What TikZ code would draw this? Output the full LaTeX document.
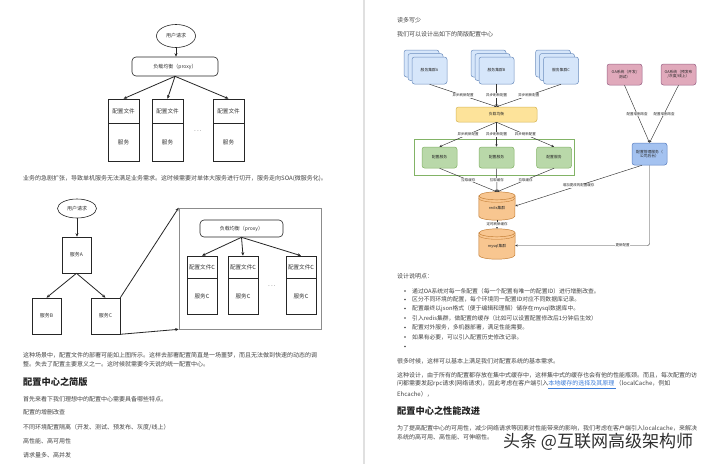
\documentclass[tikz,border=0pt]{standalone}
\usepackage{fontspec}
\setmainfont{Noto Sans CJK SC}
\usetikzlibrary{arrows.meta,shapes.geometric}
\definecolor{txtc}{HTML}{444444}
\definecolor{headc}{HTML}{222222}
\definecolor{linkc}{HTML}{3D7DD8}
\definecolor{cardf}{HTML}{D6E6FA}
\definecolor{cardd}{HTML}{6C8EBF}
\definecolor{yelf}{HTML}{FDE39A}
\definecolor{yeld}{HTML}{D6B656}
\definecolor{grnf}{HTML}{B9D8A9}
\definecolor{grnd}{HTML}{82B366}
\definecolor{orf}{HTML}{F8C690}
\definecolor{ord}{HTML}{C07A30}
\definecolor{pkf}{HTML}{E0A9BB}
\definecolor{pkd}{HTML}{996185}
\definecolor{mgf}{HTML}{A4C2F0}
\definecolor{mgd}{HTML}{5A7FC0}
\newcommand\dbcyl[4]{% name, x, y, height
  \node[minimum width=36pt,minimum height=#4pt,inner sep=0pt] (#1) at (#2,#3) {};
  \filldraw[fill=orf,draw=ord,line width=0.45pt]
    ([yshift=-4pt]#1.north west) -- ([yshift=4pt]#1.south west)
    arc[start angle=180,end angle=360,x radius=18pt,y radius=4pt]
    -- ([yshift=-4pt]#1.north east)
    arc[start angle=0,end angle=180,x radius=18pt,y radius=4pt] -- cycle;
  \draw[draw=ord,line width=0.45pt] ([yshift=-4pt]#1.north west)
    arc[start angle=180,end angle=360,x radius=18pt,y radius=4pt];
  \draw[draw=ord,line width=0.35pt] ([yshift=-6.5pt]#1.north west)
    arc[start angle=180,end angle=360,x radius=18pt,y radius=4pt];
}
\begin{document}
\begin{tikzpicture}[x=1pt,y=-1pt,
  body/.style={anchor=west,inner sep=0pt,text=txtc,font=\fontsize{6}{7}\selectfont},
  bul/.style={anchor=west,inner sep=0pt,text=txtc,font=\fontsize{5.8}{7}\selectfont},
  head/.style={anchor=west,inner sep=0pt,text=headc,font=\fontsize{9.2}{11}\selectfont\bfseries},
  lshape/.style={draw=black!85,line width=0.6pt,inner sep=0pt,font=\fontsize{5}{6}\selectfont,text=black!80},
  cell/.style={lshape,font=\fontsize{5.6}{6}\selectfont},
  larr/.style={-{Stealth[length=3.5pt,width=3pt]},line width=0.8pt,draw=black!85},
  rarr/.style={-{Stealth[length=2.5pt,width=2.2pt]},line width=0.45pt,draw=black!80},
  elab/.style={fill=white,inner sep=0.4pt,font=\fontsize{3.5}{4}\selectfont,text=black!85},
  rbox/.style={rounded corners=2.5pt,line width=0.5pt,inner sep=0.5pt,align=center,font=\fontsize{3.8}{4.4}\selectfont,text=black!85},
  card/.style={rbox,draw=cardd,fill=cardf,minimum width=35pt,minimum height=27pt},
  ]
\useasboundingbox (0,0) rectangle (720,464);
\fill[white] (0,0) rectangle (720,464);
\draw[line width=1.5pt,color=black!12] (364,0) -- (364,464);

% ---------- left diagram 1 ----------
\node[lshape,ellipse,minimum width=39pt,minimum height=23pt] (u1) at (176,36) {用户请求};
\node[lshape,rounded corners=4pt,minimum width=86pt,minimum height=19pt] (p1) at (175,66.5) {负载均衡（proxy）};
\draw[larr] (u1.south) -- (u1.south |- p1.north);
\node[cell,minimum width=31pt,minimum height=24pt] (c1t) at (123.5,111) {配置文件};
\node[cell,minimum width=31pt,minimum height=38pt,anchor=north] (c1b) at (c1t.south) {服务};
\node[cell,minimum width=31pt,minimum height=24pt] (c2t) at (167.5,111) {配置文件};
\node[cell,minimum width=31pt,minimum height=38pt,anchor=north] (c2b) at (c2t.south) {服务};
\node[cell,minimum width=31pt,minimum height=24pt] (c3t) at (228.5,111) {配置文件};
\node[cell,minimum width=31pt,minimum height=38pt,anchor=north] (c3b) at (c3t.south) {服务};
\draw[larr] (p1.south) -- (c1t.north);
\draw[larr] (p1.south) -- (c2t.north);
\draw[larr] (p1.south) -- (c3t.north);
\node[inner sep=0pt,font=\fontsize{5}{6}\selectfont] (d1) at (198,131) {. . .};

\node[body] (t1) at (23,179) {业务的急剧扩张，导致单机服务无法满足业务需求。这时候需要对单体大服务进行切开，服务走向SOA(微服务化)。};

% ---------- left diagram 2 ----------
\node[lshape,ellipse,minimum width=39pt,minimum height=19pt] (u2) at (77,208.5) {用户请求};
\node[lshape,minimum width=29pt,minimum height=36pt] (sA) at (76.5,255) {服务A};
\node[lshape,minimum width=29pt,minimum height=36pt] (sB) at (46.5,316) {服务B};
\node[lshape,minimum width=29pt,minimum height=36pt] (sC) at (105.5,316) {服务C};
\draw[larr] (u2.south) -- (u2.south |- sA.north);
\draw[larr] (sA.south) -- (sB.north);
\draw[larr] (sA.south) -- (sC.north);
\node[draw=black!45,line width=0.6pt,minimum width=142pt,minimum height=121pt,inner sep=0pt] (fr) at (250,268.5) {};
\draw[larr] (sC.north east) -- (fr.north west);
\draw[larr] (sC.south east) -- (fr.south west);
\node[lshape,rounded corners=4pt,minimum width=83pt,minimum height=17pt] (p2) at (241.5,228.5) {负载均衡（proxy）};
\node[cell,minimum width=30pt,minimum height=22pt] (e1t) at (202,267) {配置文件C};
\node[cell,minimum width=30pt,minimum height=36pt,anchor=north] (e1b) at (e1t.south) {服务C};
\node[cell,minimum width=30pt,minimum height=22pt] (e2t) at (243,267) {配置文件C};
\node[cell,minimum width=30pt,minimum height=36pt,anchor=north] (e2b) at (e2t.south) {服务C};
\node[cell,minimum width=30pt,minimum height=22pt] (e3t) at (301,267) {配置文件C};
\node[cell,minimum width=30pt,minimum height=36pt,anchor=north] (e3b) at (e3t.south) {服务C};
\draw[larr] (p2.south) -- (e1t.north);
\draw[larr] (p2.south) -- (e2t.north);
\draw[larr] (p2.south) -- (e3t.north);
\node[inner sep=0pt,font=\fontsize{5}{6}\selectfont] (d2) at (272,286) {. . .};

% ---------- left text ----------
\node[body] (t2) at (23,355) {这种场景中，配置文件的部署可能如上图所示。这样去部署配置简直是一场噩梦，而且无法做到快速的动态的调};
\node[body] (t3) at (23,364) {整。失去了配置主要意义之一。这时候就需要今天说的统一配置中心。};
\node[head] (h1) at (23,382) {配置中心之简版};
\node[body] (t4) at (23,399) {首先来看下我们理想中的配置中心需要具备哪些特点。};
\node[body] (t5) at (23,412) {配置的增删改查};
\node[body] (t6) at (23,427) {不同环境配置隔离（开发、测试、预发布、灰度/线上）};
\node[body] (t7) at (23,441) {高性能、高可用性};
\node[body] (t8) at (23,455) {请求量多、高并发};

% ---------- right text top ----------
\node[body] (r1) at (397,20) {读多写少};
\node[body] (r2) at (397,34) {我们可以设计出如下的简版配置中心};

% ---------- right diagram ----------
\foreach \n/\x in {A/429.5,B/496.5,C/561}{
  \node[card] (bk\n) at (\x-8,63.5) {};
  \node[card] (md\n) at (\x-4,67) {};
}
\node[card] (cA) at (429.5,70.5) {服务集群A};
\node[card] (cB) at (496.5,70.5) {服务集群B};
\node[card] (cC) at (561,70.5) {服务集群C};
\node[rbox,draw=yeld,fill=yelf,minimum width=81pt,minimum height=15pt] (lb) at (496.5,114.5) {负载均衡};
\draw[rarr] (cA.south) -- (lb.north) node[elab,midway] (la1) {异步刷新配置};
\draw[rarr] (cB.south) -- (lb.north) node[elab,midway] (la2) {异步刷新配置};
\draw[rarr] (cC.south) -- (lb.north) node[elab,midway] (la3) {异步刷新配置};

\node[draw=grnd,line width=0.5pt,minimum width=160pt,minimum height=36pt,inner sep=0pt] (gf) at (494,157) {};
\node[rbox,draw=grnd,fill=grnf,minimum width=35pt,minimum height=21pt] (g1) at (439.5,157.5) {配置服务};
\node[rbox,draw=grnd,fill=grnf,minimum width=35pt,minimum height=21pt] (g2) at (496.5,157.5) {配置服务};
\node[rbox,draw=grnd,fill=grnf,minimum width=35pt,minimum height=21pt] (g3) at (554,157.5) {配置服务};
\draw[rarr] (lb.south) -- (g1.north) node[elab,midway] (lb1) {异步刷新配置};
\draw[rarr] (lb.south) -- (g2.north) node[elab,midway] (lb2) {异步刷新配置};
\draw[rarr] (lb.south) -- (g3.north) node[elab,midway] (lb3) {异步刷新配置};

\dbcyl{redis}{497}{206}{28}
\node[inner sep=0pt,font=\fontsize{3.8}{4.4}\selectfont,text=black!85] (redist) at (497,208) {redis集群};
\dbcyl{mysql}{497}{244}{30}
\node[inner sep=0pt,font=\fontsize{3.8}{4.4}\selectfont,text=black!85] (mysqlt) at (497,246.5) {mysql集群};
\draw[rarr] (g1.south) -- (redis.north) node[elab,midway] (lc1) {拉取缓存};
\draw[rarr] (g2.south) -- (redis.north) node[elab,midway] (lc2) {拉取缓存};
\draw[rarr] (g3.south) -- (redis.north) node[elab,midway] (lc3) {拉取缓存};
\draw[rarr] (redis.south) -- (mysql.north) node[elab,midway] (ld) {定时刷新缓存};

\node[rbox,draw=pkd,fill=pkf,minimum width=35pt,minimum height=21pt] (oa1) at (624.5,74.5) {OA系统（开发/\\测试）};
\node[rbox,draw=pkd,fill=pkf,minimum width=35pt,minimum height=21pt] (oa2) at (678.5,74.5) {OA系统（预发布\\/灰度/线上）};
\node[rbox,draw=mgd,fill=mgf,minimum width=35pt,minimum height=22pt] (mg) at (649.5,154) {配置管理服务（\\公司后台）};
\draw[rarr] (oa1.south) -- (mg.north) node[elab,midway] (le1) {配置增删改查};
\draw[rarr] (oa2.south) -- (mg.north) node[elab,midway] (le2) {配置增删改查};
\draw[rarr] ([xshift=-7.5pt]mg.south) -- (redis.east) node[elab,midway] (lf) {增加更改的配置缓存};
\draw[rarr,rounded corners=2pt] (mg.south) |- ([yshift=-1.5pt]mysql.east) node[elab,pos=0.6] (lg) {更新配置};

% ---------- right text ----------
\node[body] (r3) at (397,276) {设计说明点：};
\foreach \yy/\tt [count=\i] in {
  291/通过OA系统对每一条配置（每一个配置有唯一的配置ID）进行增删改查。,
  299.5/区分不同环境的配置，每个环境同一配置ID对应不同数据库记录。,
  308.5/配置最终以json格式（便于编辑和理解）储存在mysql数据库中。,
  318/引入redis集群，做配置的缓存（比如可以设置配置修改后1分钟后生效）,
  327.5/配置对外服务，多机器部署，满足性能需要。,
  337/如果有必要，可以引入配置历史修改记录。,
  346.5/{}}{
  \fill[txtc] (405,\yy) circle (0.9pt);
  \node[bul] (b\i) at (412,\yy) {\tt};
}
\node[body] (r4) at (397,361) {很多时候，这样可以基本上满足我们对配置系统的基本需求。};
\node[body] (r5) at (397,375) {这种设计，由于所有的配置都存放在集中式缓存中，这样集中式的缓存也会有他的性能瓶颈。而且，每次配置的访};
\node[body] (r6) at (397,384.5) {问都需要发起rpc请求(网络请求)，因此考虑在客户端引入\textcolor{linkc}{\underline{本地缓存的选择及其原理 }}（localCache，例如};
\node[body] (r7) at (397,394) {Ehcache），};
\node[head] (h2) at (397,411) {配置中心之性能改进};
\node[body] (r8) at (397,428) {为了提高配置中心的可用性，减少网络请求等因素对性能带来的影响，我们考虑在客户端引入localcache，来解决};
\node[body] (r9) at (397,437) {系统的高可用、高性能、可伸缩性。};

% watermark
\node[inner sep=0pt,anchor=west,font=\fontsize{17}{19}\selectfont,text=black!82] (wm) at (503,442) {头条 @互联网高级架构师};
\end{tikzpicture}
\end{document}
